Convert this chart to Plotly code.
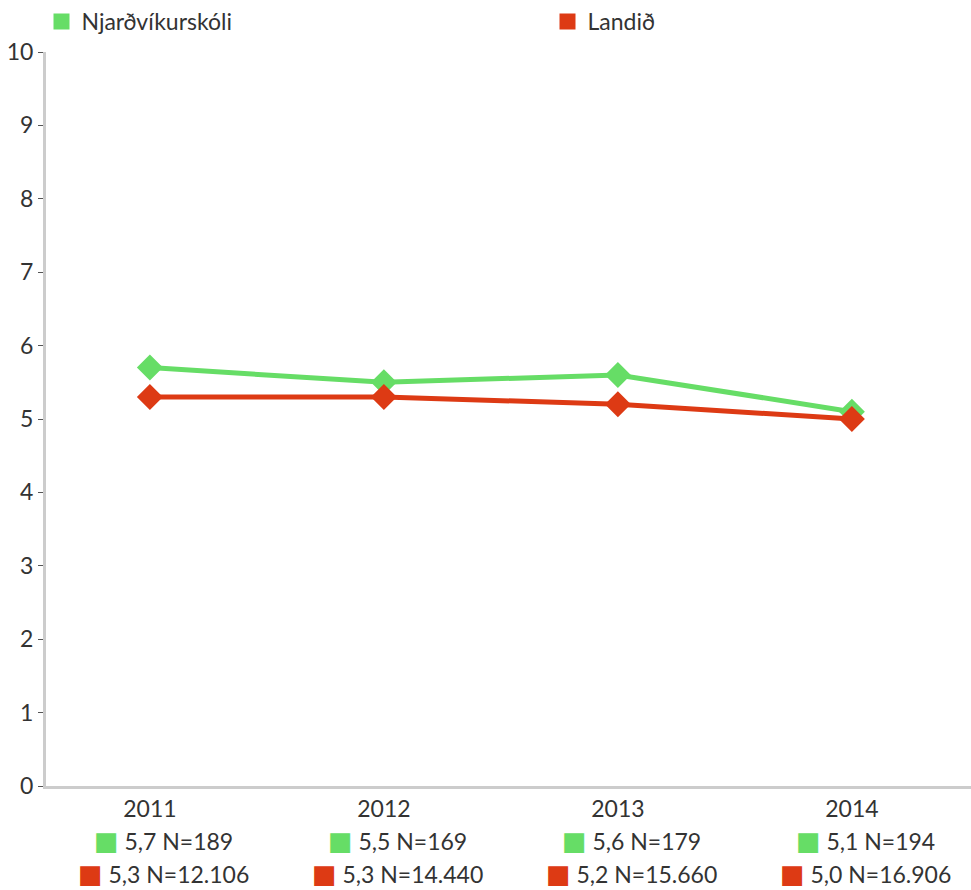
import plotly.graph_objects as go

years = ["2011", "2012", "2013", "2014"]
school_name = "Njarðvíkurskóli"
country_name = "Landið"
school_values = [5.7, 5.5, 5.6, 5.1]
country_values = [5.3, 5.3, 5.2, 5.0]
school_n = [189, 169, 179, 194]
country_n = [12106, 14440, 15660, 16906]

GREEN = "#66DD66"
RED = "#DD3A14"
TEXT = "#333333"
FONT = "Lato"
FS = 23

PLOT_TOP = 52
PLOT_BOTTOM = 104
PLOT_H = 890 - PLOT_TOP - PLOT_BOTTOM


def fmt_value(v):
    return f"{v:.1f}".replace(".", ",")


def fmt_n(n):
    return f"{n:,}".replace(",", ".")


fig = go.Figure()

series = [(school_name, school_values, school_n, GREEN, "legend"),
          (country_name, country_values, country_n, RED, "legend2")]

for name, vals, ns, color, leg in series:
    fig.add_trace(go.Scatter(
        x=years, y=vals, mode="lines+markers", name=name,
        line=dict(color=color, width=5),
        marker=dict(symbol="diamond", size=20, color=color),
        showlegend=False, hoverinfo="skip",
    ))
    # square legend key
    fig.add_trace(go.Scatter(
        x=[None], y=[None], mode="markers", name=name,
        marker=dict(symbol="square", size=16, color=color),
        showlegend=True, legend=leg,
    ))

# value / sample-size rows under each year (x given as category index)
for i in range(len(years)):
    for row, (name, vals, ns, color, leg) in enumerate(series):
        fig.add_annotation(
            x=i, xref="x", y=0, yref="paper",
            xshift=14, yshift=-55 - 33 * row,
            yanchor="middle", xanchor="center",
            showarrow=False,
            text=(f"<span style='color:{color};font-family:DejaVu Sans;"
                  f"font-size:26px'>■</span> "
                  f"{fmt_value(vals[i])} N={fmt_n(ns[i])}"),
            font=dict(family=FONT, size=FS, color=TEXT),
        )

legend_common = dict(
    orientation="h", xref="paper", yref="paper",
    y=1 + PLOT_TOP / PLOT_H, xanchor="left", yanchor="top",
    font=dict(family=FONT, size=FS, color=TEXT),
    itemsizing="trace", bgcolor="rgba(0,0,0,0)",
)

fig.update_layout(
    width=971, height=890,
    margin=dict(l=46, r=0, t=PLOT_TOP, b=PLOT_BOTTOM, autoexpand=False),
    paper_bgcolor="white", plot_bgcolor="white",
    font=dict(family=FONT, size=FS, color=TEXT),
    legend=dict(x=(41.5 - 46) / 925, **legend_common),
    legend2=dict(x=(547.5 - 46) / 925, **legend_common),
    xaxis=dict(
        type="category", range=[-0.444, 3.509],
        showline=True, linecolor="#CCCCCC", linewidth=3,
        showgrid=False, ticks="", zeroline=False,
        tickfont=dict(size=FS, color=TEXT),
    ),
    yaxis=dict(
        range=[0, 10], tickvals=list(range(11)),
        showline=True, linecolor="#CCCCCC", linewidth=3,
        showgrid=False, zeroline=False,
        ticks="outside", ticklen=5, tickwidth=1, tickcolor="#555555",
        tickfont=dict(size=FS, color=TEXT),
    ),
)

fig.write_html("out.html")
